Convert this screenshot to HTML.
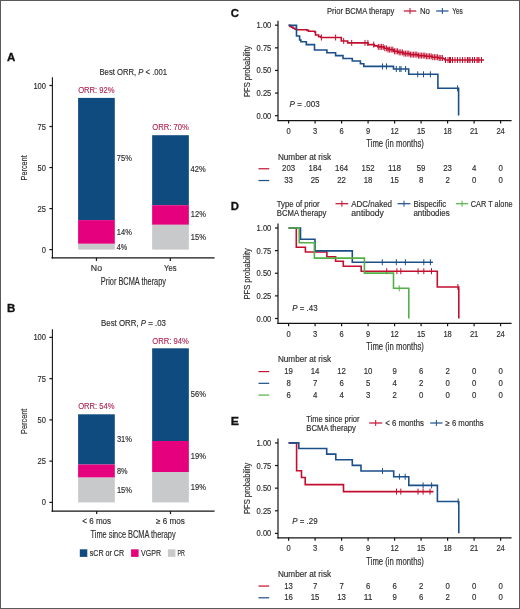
<!DOCTYPE html>
<html><head><meta charset="utf-8"><style>
html,body{margin:0;padding:0;background:#fff;}
body{width:520px;height:609px;overflow:hidden;position:relative;}
svg{display:block;font-family:"Liberation Sans", sans-serif;filter:blur(0.35px);}
</style></head><body>
<svg width="520" height="609" viewBox="0 0 520 609">
<rect x="0" y="0" width="520" height="609" fill="#fff"/>
<text x="7.10" y="61.27" font-size="10.8" fill="#111" stroke="#111" stroke-width="0.3" font-weight="bold" textLength="8.30" lengthAdjust="spacingAndGlyphs">A</text>
<text x="99.50" y="75.12" font-size="9.0" fill="#2e2e2e" stroke="#2e2e2e" stroke-width="0.16" textLength="67.60" lengthAdjust="spacingAndGlyphs">Best ORR, <tspan font-style="italic">P</tspan> &lt; .001</text>
<line x1="52.40" y1="77.29" x2="52.40" y2="258.50" stroke="#141414" stroke-width="1.1"/>
<line x1="51.50" y1="257.90" x2="214.60" y2="257.90" stroke="#141414" stroke-width="1.2"/>
<line x1="49.40" y1="249.60" x2="52.40" y2="249.60" stroke="#141414" stroke-width="1.2"/>
<text x="41.80" y="252.64" font-size="8.5" fill="#2e2e2e" stroke="#2e2e2e" stroke-width="0.16" textLength="4.20" lengthAdjust="spacingAndGlyphs">0</text>
<line x1="49.40" y1="208.57" x2="52.40" y2="208.57" stroke="#141414" stroke-width="1.2"/>
<text x="37.60" y="211.62" font-size="8.5" fill="#2e2e2e" stroke="#2e2e2e" stroke-width="0.16" textLength="8.40" lengthAdjust="spacingAndGlyphs">25</text>
<line x1="49.40" y1="167.55" x2="52.40" y2="167.55" stroke="#141414" stroke-width="1.2"/>
<text x="37.60" y="170.59" font-size="8.5" fill="#2e2e2e" stroke="#2e2e2e" stroke-width="0.16" textLength="8.40" lengthAdjust="spacingAndGlyphs">50</text>
<line x1="49.40" y1="126.52" x2="52.40" y2="126.52" stroke="#141414" stroke-width="1.2"/>
<text x="37.60" y="129.57" font-size="8.5" fill="#2e2e2e" stroke="#2e2e2e" stroke-width="0.16" textLength="8.40" lengthAdjust="spacingAndGlyphs">75</text>
<line x1="49.40" y1="85.50" x2="52.40" y2="85.50" stroke="#141414" stroke-width="1.2"/>
<text x="33.40" y="88.54" font-size="8.5" fill="#2e2e2e" stroke="#2e2e2e" stroke-width="0.16" textLength="12.60" lengthAdjust="spacingAndGlyphs">100</text>
<text x="11.00" y="171.19" font-size="9.2" fill="#2e2e2e" stroke="#2e2e2e" stroke-width="0.16" textLength="25.20" lengthAdjust="spacingAndGlyphs" transform="rotate(-90 23.60 167.90)">Percent</text>
<rect x="78.10" y="97.90" width="36.70" height="122.20" fill="#104b80"/>
<rect x="78.10" y="220.10" width="36.70" height="23.70" fill="#e5007d"/>
<rect x="78.10" y="243.80" width="36.70" height="5.80" fill="#c8c9cb"/>
<text x="78.15" y="92.94" font-size="8.2" fill="#ad2450" stroke="#ad2450" stroke-width="0.12" textLength="36.50" lengthAdjust="spacingAndGlyphs">ORR: 92%</text>
<text x="116.80" y="161.47" font-size="8.3" fill="#2e2e2e" stroke="#2e2e2e" stroke-width="0.16" textLength="15.10" lengthAdjust="spacingAndGlyphs">75%</text>
<text x="116.80" y="234.97" font-size="8.3" fill="#2e2e2e" stroke="#2e2e2e" stroke-width="0.16" textLength="15.10" lengthAdjust="spacingAndGlyphs">14%</text>
<text x="116.80" y="249.97" font-size="8.3" fill="#2e2e2e" stroke="#2e2e2e" stroke-width="0.16" textLength="10.55" lengthAdjust="spacingAndGlyphs">4%</text>
<rect x="152.15" y="135.20" width="36.70" height="70.00" fill="#104b80"/>
<rect x="152.15" y="205.20" width="36.70" height="19.60" fill="#e5007d"/>
<rect x="152.15" y="224.80" width="36.70" height="24.80" fill="#c8c9cb"/>
<text x="152.20" y="130.24" font-size="8.2" fill="#ad2450" stroke="#ad2450" stroke-width="0.12" textLength="36.50" lengthAdjust="spacingAndGlyphs">ORR: 70%</text>
<text x="190.60" y="172.27" font-size="8.3" fill="#2e2e2e" stroke="#2e2e2e" stroke-width="0.16" textLength="15.10" lengthAdjust="spacingAndGlyphs">42%</text>
<text x="190.80" y="217.47" font-size="8.3" fill="#2e2e2e" stroke="#2e2e2e" stroke-width="0.16" textLength="15.10" lengthAdjust="spacingAndGlyphs">12%</text>
<text x="190.80" y="240.47" font-size="8.3" fill="#2e2e2e" stroke="#2e2e2e" stroke-width="0.16" textLength="15.10" lengthAdjust="spacingAndGlyphs">15%</text>
<line x1="96.45" y1="257.90" x2="96.45" y2="260.90" stroke="#141414" stroke-width="1.2"/>
<text x="90.85" y="271.47" font-size="8.3" fill="#2e2e2e" stroke="#2e2e2e" stroke-width="0.16" textLength="11.20" lengthAdjust="spacingAndGlyphs">No</text>
<line x1="170.30" y1="257.90" x2="170.30" y2="260.90" stroke="#141414" stroke-width="1.2"/>
<text x="164.10" y="271.47" font-size="8.3" fill="#2e2e2e" stroke="#2e2e2e" stroke-width="0.16" textLength="12.40" lengthAdjust="spacingAndGlyphs">Yes</text>
<text x="100.80" y="284.89" font-size="10.3" fill="#2e2e2e" stroke="#2e2e2e" stroke-width="0.16" textLength="65.20" lengthAdjust="spacingAndGlyphs">Prior BCMA therapy</text>
<text x="7.10" y="311.87" font-size="10.8" fill="#111" stroke="#111" stroke-width="0.3" font-weight="bold" textLength="8.30" lengthAdjust="spacingAndGlyphs">B</text>
<text x="101.00" y="325.82" font-size="9.0" fill="#2e2e2e" stroke="#2e2e2e" stroke-width="0.16" textLength="65.00" lengthAdjust="spacingAndGlyphs">Best ORR, <tspan font-style="italic">P</tspan> = .03</text>
<line x1="52.40" y1="329.15" x2="52.40" y2="511.70" stroke="#141414" stroke-width="1.1"/>
<line x1="51.50" y1="511.10" x2="214.60" y2="511.10" stroke="#141414" stroke-width="1.2"/>
<line x1="49.40" y1="502.40" x2="52.40" y2="502.40" stroke="#141414" stroke-width="1.2"/>
<text x="41.80" y="505.44" font-size="8.5" fill="#2e2e2e" stroke="#2e2e2e" stroke-width="0.16" textLength="4.20" lengthAdjust="spacingAndGlyphs">0</text>
<line x1="49.40" y1="461.15" x2="52.40" y2="461.15" stroke="#141414" stroke-width="1.2"/>
<text x="37.60" y="464.19" font-size="8.5" fill="#2e2e2e" stroke="#2e2e2e" stroke-width="0.16" textLength="8.40" lengthAdjust="spacingAndGlyphs">25</text>
<line x1="49.40" y1="419.90" x2="52.40" y2="419.90" stroke="#141414" stroke-width="1.2"/>
<text x="37.60" y="422.94" font-size="8.5" fill="#2e2e2e" stroke="#2e2e2e" stroke-width="0.16" textLength="8.40" lengthAdjust="spacingAndGlyphs">50</text>
<line x1="49.40" y1="378.65" x2="52.40" y2="378.65" stroke="#141414" stroke-width="1.2"/>
<text x="37.60" y="381.69" font-size="8.5" fill="#2e2e2e" stroke="#2e2e2e" stroke-width="0.16" textLength="8.40" lengthAdjust="spacingAndGlyphs">75</text>
<line x1="49.40" y1="337.40" x2="52.40" y2="337.40" stroke="#141414" stroke-width="1.2"/>
<text x="33.40" y="340.44" font-size="8.5" fill="#2e2e2e" stroke="#2e2e2e" stroke-width="0.16" textLength="12.60" lengthAdjust="spacingAndGlyphs">100</text>
<text x="11.00" y="424.59" font-size="9.2" fill="#2e2e2e" stroke="#2e2e2e" stroke-width="0.16" textLength="25.20" lengthAdjust="spacingAndGlyphs" transform="rotate(-90 23.60 421.30)">Percent</text>
<rect x="78.10" y="414.30" width="36.70" height="50.20" fill="#104b80"/>
<rect x="78.10" y="464.50" width="36.70" height="13.10" fill="#e5007d"/>
<rect x="78.10" y="477.60" width="36.70" height="24.80" fill="#c8c9cb"/>
<text x="78.15" y="408.84" font-size="8.2" fill="#ad2450" stroke="#ad2450" stroke-width="0.12" textLength="36.50" lengthAdjust="spacingAndGlyphs">ORR: 54%</text>
<text x="116.90" y="442.17" font-size="8.3" fill="#2e2e2e" stroke="#2e2e2e" stroke-width="0.16" textLength="15.10" lengthAdjust="spacingAndGlyphs">31%</text>
<text x="116.90" y="473.87" font-size="8.3" fill="#2e2e2e" stroke="#2e2e2e" stroke-width="0.16" textLength="10.55" lengthAdjust="spacingAndGlyphs">8%</text>
<text x="116.90" y="492.57" font-size="8.3" fill="#2e2e2e" stroke="#2e2e2e" stroke-width="0.16" textLength="15.10" lengthAdjust="spacingAndGlyphs">15%</text>
<rect x="152.15" y="348.30" width="36.70" height="92.70" fill="#104b80"/>
<rect x="152.15" y="441.00" width="36.70" height="31.00" fill="#e5007d"/>
<rect x="152.15" y="472.00" width="36.70" height="30.40" fill="#c8c9cb"/>
<text x="152.20" y="343.84" font-size="8.2" fill="#ad2450" stroke="#ad2450" stroke-width="0.12" textLength="36.50" lengthAdjust="spacingAndGlyphs">ORR: 94%</text>
<text x="190.80" y="397.27" font-size="8.3" fill="#2e2e2e" stroke="#2e2e2e" stroke-width="0.16" textLength="15.10" lengthAdjust="spacingAndGlyphs">56%</text>
<text x="190.80" y="459.07" font-size="8.3" fill="#2e2e2e" stroke="#2e2e2e" stroke-width="0.16" textLength="15.10" lengthAdjust="spacingAndGlyphs">19%</text>
<text x="190.80" y="490.07" font-size="8.3" fill="#2e2e2e" stroke="#2e2e2e" stroke-width="0.16" textLength="15.10" lengthAdjust="spacingAndGlyphs">19%</text>
<line x1="96.70" y1="511.10" x2="96.70" y2="514.10" stroke="#141414" stroke-width="1.2"/>
<text x="82.30" y="524.17" font-size="8.3" fill="#2e2e2e" stroke="#2e2e2e" stroke-width="0.16" textLength="28.80" lengthAdjust="spacingAndGlyphs">&lt; 6 mos</text>
<line x1="170.50" y1="511.10" x2="170.50" y2="514.10" stroke="#141414" stroke-width="1.2"/>
<text x="156.10" y="524.17" font-size="8.3" fill="#2e2e2e" stroke="#2e2e2e" stroke-width="0.16" textLength="28.80" lengthAdjust="spacingAndGlyphs">≥ 6 mos</text>
<text x="90.60" y="537.89" font-size="10.3" fill="#2e2e2e" stroke="#2e2e2e" stroke-width="0.16" textLength="85.00" lengthAdjust="spacingAndGlyphs">Time since BCMA therapy</text>
<rect x="79.80" y="549.30" width="7.50" height="7.60" fill="#104b80"/>
<text x="89.70" y="555.81" font-size="8.4" fill="#2e2e2e" stroke="#2e2e2e" stroke-width="0.16" textLength="34.40" lengthAdjust="spacingAndGlyphs">sCR or CR</text>
<rect x="131.10" y="549.30" width="7.50" height="7.60" fill="#e5007d"/>
<text x="141.10" y="555.81" font-size="8.4" fill="#2e2e2e" stroke="#2e2e2e" stroke-width="0.16" textLength="20.00" lengthAdjust="spacingAndGlyphs">VGPR</text>
<rect x="167.90" y="549.30" width="7.50" height="7.60" fill="#c8c9cb"/>
<text x="177.40" y="555.81" font-size="8.4" fill="#2e2e2e" stroke="#2e2e2e" stroke-width="0.16" textLength="7.40" lengthAdjust="spacingAndGlyphs">PR</text>
<text x="230.80" y="16.77" font-size="10.8" fill="#111" stroke="#111" stroke-width="0.3" font-weight="bold" textLength="8.20" lengthAdjust="spacingAndGlyphs">C</text>
<line x1="278.00" y1="20.67" x2="278.00" y2="121.12" stroke="#141414" stroke-width="1.2"/>
<line x1="277.40" y1="120.53" x2="511.60" y2="120.53" stroke="#141414" stroke-width="1.2"/>
<line x1="275.00" y1="115.70" x2="278.00" y2="115.70" stroke="#141414" stroke-width="1.2"/>
<text x="256.60" y="118.74" font-size="8.5" fill="#2e2e2e" stroke="#2e2e2e" stroke-width="0.16" textLength="14.70" lengthAdjust="spacingAndGlyphs">0.00</text>
<line x1="275.00" y1="93.08" x2="278.00" y2="93.08" stroke="#141414" stroke-width="1.2"/>
<text x="256.60" y="96.12" font-size="8.5" fill="#2e2e2e" stroke="#2e2e2e" stroke-width="0.16" textLength="14.70" lengthAdjust="spacingAndGlyphs">0.25</text>
<line x1="275.00" y1="70.45" x2="278.00" y2="70.45" stroke="#141414" stroke-width="1.2"/>
<text x="256.60" y="73.49" font-size="8.5" fill="#2e2e2e" stroke="#2e2e2e" stroke-width="0.16" textLength="14.70" lengthAdjust="spacingAndGlyphs">0.50</text>
<line x1="275.00" y1="47.83" x2="278.00" y2="47.83" stroke="#141414" stroke-width="1.2"/>
<text x="256.60" y="50.87" font-size="8.5" fill="#2e2e2e" stroke="#2e2e2e" stroke-width="0.16" textLength="14.70" lengthAdjust="spacingAndGlyphs">0.75</text>
<line x1="275.00" y1="25.20" x2="278.00" y2="25.20" stroke="#141414" stroke-width="1.2"/>
<text x="256.60" y="28.24" font-size="8.5" fill="#2e2e2e" stroke="#2e2e2e" stroke-width="0.16" textLength="14.70" lengthAdjust="spacingAndGlyphs">1.00</text>
<line x1="288.60" y1="120.53" x2="288.60" y2="123.53" stroke="#141414" stroke-width="1.2"/>
<text x="286.50" y="134.07" font-size="8.5" fill="#2e2e2e" stroke="#2e2e2e" stroke-width="0.16" textLength="4.20" lengthAdjust="spacingAndGlyphs">0</text>
<line x1="315.10" y1="120.53" x2="315.10" y2="123.53" stroke="#141414" stroke-width="1.2"/>
<text x="313.00" y="134.07" font-size="8.5" fill="#2e2e2e" stroke="#2e2e2e" stroke-width="0.16" textLength="4.20" lengthAdjust="spacingAndGlyphs">3</text>
<line x1="341.60" y1="120.53" x2="341.60" y2="123.53" stroke="#141414" stroke-width="1.2"/>
<text x="339.50" y="134.07" font-size="8.5" fill="#2e2e2e" stroke="#2e2e2e" stroke-width="0.16" textLength="4.20" lengthAdjust="spacingAndGlyphs">6</text>
<line x1="368.10" y1="120.53" x2="368.10" y2="123.53" stroke="#141414" stroke-width="1.2"/>
<text x="366.00" y="134.07" font-size="8.5" fill="#2e2e2e" stroke="#2e2e2e" stroke-width="0.16" textLength="4.20" lengthAdjust="spacingAndGlyphs">9</text>
<line x1="394.60" y1="120.53" x2="394.60" y2="123.53" stroke="#141414" stroke-width="1.2"/>
<text x="390.40" y="134.07" font-size="8.5" fill="#2e2e2e" stroke="#2e2e2e" stroke-width="0.16" textLength="8.40" lengthAdjust="spacingAndGlyphs">12</text>
<line x1="421.10" y1="120.53" x2="421.10" y2="123.53" stroke="#141414" stroke-width="1.2"/>
<text x="416.90" y="134.07" font-size="8.5" fill="#2e2e2e" stroke="#2e2e2e" stroke-width="0.16" textLength="8.40" lengthAdjust="spacingAndGlyphs">15</text>
<line x1="447.60" y1="120.53" x2="447.60" y2="123.53" stroke="#141414" stroke-width="1.2"/>
<text x="443.40" y="134.07" font-size="8.5" fill="#2e2e2e" stroke="#2e2e2e" stroke-width="0.16" textLength="8.40" lengthAdjust="spacingAndGlyphs">18</text>
<line x1="474.10" y1="120.53" x2="474.10" y2="123.53" stroke="#141414" stroke-width="1.2"/>
<text x="469.90" y="134.07" font-size="8.5" fill="#2e2e2e" stroke="#2e2e2e" stroke-width="0.16" textLength="8.40" lengthAdjust="spacingAndGlyphs">21</text>
<line x1="500.60" y1="120.53" x2="500.60" y2="123.53" stroke="#141414" stroke-width="1.2"/>
<text x="496.40" y="134.07" font-size="8.5" fill="#2e2e2e" stroke="#2e2e2e" stroke-width="0.16" textLength="8.40" lengthAdjust="spacingAndGlyphs">24</text>
<text x="366.30" y="147.31" font-size="10.3" fill="#2e2e2e" stroke="#2e2e2e" stroke-width="0.16" textLength="57.60" lengthAdjust="spacingAndGlyphs">Time (in months)</text>
<text x="221.20" y="74.59" font-size="9.2" fill="#2e2e2e" stroke="#2e2e2e" stroke-width="0.16" textLength="51.40" lengthAdjust="spacingAndGlyphs" transform="rotate(-90 246.90 71.30)">PFS probability</text>
<text x="289.60" y="107.27" font-size="8.3" fill="#2e2e2e" stroke="#2e2e2e" stroke-width="0.16" textLength="30.00" lengthAdjust="spacingAndGlyphs"><tspan font-style="italic">P</tspan> = .003</text>
<text x="277.90" y="159.60" font-size="8.6" fill="#2e2e2e" stroke="#2e2e2e" stroke-width="0.16" textLength="53.20" lengthAdjust="spacingAndGlyphs">Number at risk</text>
<line x1="258.50" y1="168.78" x2="269.20" y2="168.78" stroke="#c20f2f" stroke-width="1.2"/>
<text x="282.08" y="171.43" font-size="8.8" fill="#2e2e2e" stroke="#2e2e2e" stroke-width="0.16" textLength="13.05" lengthAdjust="spacingAndGlyphs">203</text>
<text x="308.58" y="171.43" font-size="8.8" fill="#2e2e2e" stroke="#2e2e2e" stroke-width="0.16" textLength="13.05" lengthAdjust="spacingAndGlyphs">184</text>
<text x="335.08" y="171.43" font-size="8.8" fill="#2e2e2e" stroke="#2e2e2e" stroke-width="0.16" textLength="13.05" lengthAdjust="spacingAndGlyphs">164</text>
<text x="361.58" y="171.43" font-size="8.8" fill="#2e2e2e" stroke="#2e2e2e" stroke-width="0.16" textLength="13.05" lengthAdjust="spacingAndGlyphs">152</text>
<text x="388.08" y="171.43" font-size="8.8" fill="#2e2e2e" stroke="#2e2e2e" stroke-width="0.16" textLength="13.05" lengthAdjust="spacingAndGlyphs">118</text>
<text x="416.75" y="171.43" font-size="8.8" fill="#2e2e2e" stroke="#2e2e2e" stroke-width="0.16" textLength="8.70" lengthAdjust="spacingAndGlyphs">59</text>
<text x="443.25" y="171.43" font-size="8.8" fill="#2e2e2e" stroke="#2e2e2e" stroke-width="0.16" textLength="8.70" lengthAdjust="spacingAndGlyphs">23</text>
<text x="471.93" y="171.43" font-size="8.8" fill="#2e2e2e" stroke="#2e2e2e" stroke-width="0.16" textLength="4.35" lengthAdjust="spacingAndGlyphs">4</text>
<text x="498.43" y="171.43" font-size="8.8" fill="#2e2e2e" stroke="#2e2e2e" stroke-width="0.16" textLength="4.35" lengthAdjust="spacingAndGlyphs">0</text>
<line x1="258.50" y1="180.53" x2="269.20" y2="180.53" stroke="#1b4f8a" stroke-width="1.2"/>
<text x="284.25" y="183.18" font-size="8.8" fill="#2e2e2e" stroke="#2e2e2e" stroke-width="0.16" textLength="8.70" lengthAdjust="spacingAndGlyphs">33</text>
<text x="310.75" y="183.18" font-size="8.8" fill="#2e2e2e" stroke="#2e2e2e" stroke-width="0.16" textLength="8.70" lengthAdjust="spacingAndGlyphs">25</text>
<text x="337.25" y="183.18" font-size="8.8" fill="#2e2e2e" stroke="#2e2e2e" stroke-width="0.16" textLength="8.70" lengthAdjust="spacingAndGlyphs">22</text>
<text x="363.75" y="183.18" font-size="8.8" fill="#2e2e2e" stroke="#2e2e2e" stroke-width="0.16" textLength="8.70" lengthAdjust="spacingAndGlyphs">18</text>
<text x="390.25" y="183.18" font-size="8.8" fill="#2e2e2e" stroke="#2e2e2e" stroke-width="0.16" textLength="8.70" lengthAdjust="spacingAndGlyphs">15</text>
<text x="418.93" y="183.18" font-size="8.8" fill="#2e2e2e" stroke="#2e2e2e" stroke-width="0.16" textLength="4.35" lengthAdjust="spacingAndGlyphs">8</text>
<text x="445.43" y="183.18" font-size="8.8" fill="#2e2e2e" stroke="#2e2e2e" stroke-width="0.16" textLength="4.35" lengthAdjust="spacingAndGlyphs">2</text>
<text x="471.93" y="183.18" font-size="8.8" fill="#2e2e2e" stroke="#2e2e2e" stroke-width="0.16" textLength="4.35" lengthAdjust="spacingAndGlyphs">0</text>
<text x="498.43" y="183.18" font-size="8.8" fill="#2e2e2e" stroke="#2e2e2e" stroke-width="0.16" textLength="4.35" lengthAdjust="spacingAndGlyphs">0</text>
<text x="327.00" y="14.11" font-size="8.4" fill="#2e2e2e" stroke="#2e2e2e" stroke-width="0.16" textLength="67.40" lengthAdjust="spacingAndGlyphs">Prior BCMA therapy</text>
<line x1="403.80" y1="11.00" x2="416.20" y2="11.00" stroke="#c20f2f" stroke-width="1.2"/>
<line x1="410.00" y1="8.00" x2="410.00" y2="14.00" stroke="#c20f2f" stroke-width="1.0"/>
<text x="419.90" y="14.11" font-size="8.4" fill="#2e2e2e" stroke="#2e2e2e" stroke-width="0.16" textLength="10.00" lengthAdjust="spacingAndGlyphs">No</text>
<line x1="436.20" y1="11.00" x2="448.50" y2="11.00" stroke="#1b4f8a" stroke-width="1.2"/>
<line x1="442.35" y1="8.00" x2="442.35" y2="14.00" stroke="#1b4f8a" stroke-width="1.0"/>
<text x="452.30" y="14.11" font-size="8.4" fill="#2e2e2e" stroke="#2e2e2e" stroke-width="0.16" textLength="10.50" lengthAdjust="spacingAndGlyphs">Yes</text>
<text x="230.80" y="209.87" font-size="10.8" fill="#111" stroke="#111" stroke-width="0.3" font-weight="bold" textLength="8.20" lengthAdjust="spacingAndGlyphs">D</text>
<line x1="278.00" y1="223.47" x2="278.00" y2="323.93" stroke="#141414" stroke-width="1.2"/>
<line x1="277.40" y1="323.32" x2="511.60" y2="323.32" stroke="#141414" stroke-width="1.2"/>
<line x1="275.00" y1="318.50" x2="278.00" y2="318.50" stroke="#141414" stroke-width="1.2"/>
<text x="256.60" y="321.54" font-size="8.5" fill="#2e2e2e" stroke="#2e2e2e" stroke-width="0.16" textLength="14.70" lengthAdjust="spacingAndGlyphs">0.00</text>
<line x1="275.00" y1="295.88" x2="278.00" y2="295.88" stroke="#141414" stroke-width="1.2"/>
<text x="256.60" y="298.92" font-size="8.5" fill="#2e2e2e" stroke="#2e2e2e" stroke-width="0.16" textLength="14.70" lengthAdjust="spacingAndGlyphs">0.25</text>
<line x1="275.00" y1="273.25" x2="278.00" y2="273.25" stroke="#141414" stroke-width="1.2"/>
<text x="256.60" y="276.29" font-size="8.5" fill="#2e2e2e" stroke="#2e2e2e" stroke-width="0.16" textLength="14.70" lengthAdjust="spacingAndGlyphs">0.50</text>
<line x1="275.00" y1="250.62" x2="278.00" y2="250.62" stroke="#141414" stroke-width="1.2"/>
<text x="256.60" y="253.67" font-size="8.5" fill="#2e2e2e" stroke="#2e2e2e" stroke-width="0.16" textLength="14.70" lengthAdjust="spacingAndGlyphs">0.75</text>
<line x1="275.00" y1="228.00" x2="278.00" y2="228.00" stroke="#141414" stroke-width="1.2"/>
<text x="256.60" y="231.04" font-size="8.5" fill="#2e2e2e" stroke="#2e2e2e" stroke-width="0.16" textLength="14.70" lengthAdjust="spacingAndGlyphs">1.00</text>
<line x1="288.60" y1="323.32" x2="288.60" y2="326.32" stroke="#141414" stroke-width="1.2"/>
<text x="286.50" y="336.87" font-size="8.5" fill="#2e2e2e" stroke="#2e2e2e" stroke-width="0.16" textLength="4.20" lengthAdjust="spacingAndGlyphs">0</text>
<line x1="315.10" y1="323.32" x2="315.10" y2="326.32" stroke="#141414" stroke-width="1.2"/>
<text x="313.00" y="336.87" font-size="8.5" fill="#2e2e2e" stroke="#2e2e2e" stroke-width="0.16" textLength="4.20" lengthAdjust="spacingAndGlyphs">3</text>
<line x1="341.60" y1="323.32" x2="341.60" y2="326.32" stroke="#141414" stroke-width="1.2"/>
<text x="339.50" y="336.87" font-size="8.5" fill="#2e2e2e" stroke="#2e2e2e" stroke-width="0.16" textLength="4.20" lengthAdjust="spacingAndGlyphs">6</text>
<line x1="368.10" y1="323.32" x2="368.10" y2="326.32" stroke="#141414" stroke-width="1.2"/>
<text x="366.00" y="336.87" font-size="8.5" fill="#2e2e2e" stroke="#2e2e2e" stroke-width="0.16" textLength="4.20" lengthAdjust="spacingAndGlyphs">9</text>
<line x1="394.60" y1="323.32" x2="394.60" y2="326.32" stroke="#141414" stroke-width="1.2"/>
<text x="390.40" y="336.87" font-size="8.5" fill="#2e2e2e" stroke="#2e2e2e" stroke-width="0.16" textLength="8.40" lengthAdjust="spacingAndGlyphs">12</text>
<line x1="421.10" y1="323.32" x2="421.10" y2="326.32" stroke="#141414" stroke-width="1.2"/>
<text x="416.90" y="336.87" font-size="8.5" fill="#2e2e2e" stroke="#2e2e2e" stroke-width="0.16" textLength="8.40" lengthAdjust="spacingAndGlyphs">15</text>
<line x1="447.60" y1="323.32" x2="447.60" y2="326.32" stroke="#141414" stroke-width="1.2"/>
<text x="443.40" y="336.87" font-size="8.5" fill="#2e2e2e" stroke="#2e2e2e" stroke-width="0.16" textLength="8.40" lengthAdjust="spacingAndGlyphs">18</text>
<line x1="474.10" y1="323.32" x2="474.10" y2="326.32" stroke="#141414" stroke-width="1.2"/>
<text x="469.90" y="336.87" font-size="8.5" fill="#2e2e2e" stroke="#2e2e2e" stroke-width="0.16" textLength="8.40" lengthAdjust="spacingAndGlyphs">21</text>
<line x1="500.60" y1="323.32" x2="500.60" y2="326.32" stroke="#141414" stroke-width="1.2"/>
<text x="496.40" y="336.87" font-size="8.5" fill="#2e2e2e" stroke="#2e2e2e" stroke-width="0.16" textLength="8.40" lengthAdjust="spacingAndGlyphs">24</text>
<text x="366.30" y="350.11" font-size="10.3" fill="#2e2e2e" stroke="#2e2e2e" stroke-width="0.16" textLength="57.60" lengthAdjust="spacingAndGlyphs">Time (in months)</text>
<text x="221.20" y="277.09" font-size="9.2" fill="#2e2e2e" stroke="#2e2e2e" stroke-width="0.16" textLength="51.40" lengthAdjust="spacingAndGlyphs" transform="rotate(-90 246.90 273.80)">PFS probability</text>
<text x="292.30" y="310.67" font-size="8.3" fill="#2e2e2e" stroke="#2e2e2e" stroke-width="0.16" textLength="25.30" lengthAdjust="spacingAndGlyphs"><tspan font-style="italic">P</tspan> = .43</text>
<text x="277.90" y="362.40" font-size="8.6" fill="#2e2e2e" stroke="#2e2e2e" stroke-width="0.16" textLength="53.20" lengthAdjust="spacingAndGlyphs">Number at risk</text>
<line x1="258.50" y1="371.57" x2="269.20" y2="371.57" stroke="#c20f2f" stroke-width="1.2"/>
<text x="284.25" y="374.23" font-size="8.8" fill="#2e2e2e" stroke="#2e2e2e" stroke-width="0.16" textLength="8.70" lengthAdjust="spacingAndGlyphs">19</text>
<text x="310.75" y="374.23" font-size="8.8" fill="#2e2e2e" stroke="#2e2e2e" stroke-width="0.16" textLength="8.70" lengthAdjust="spacingAndGlyphs">14</text>
<text x="337.25" y="374.23" font-size="8.8" fill="#2e2e2e" stroke="#2e2e2e" stroke-width="0.16" textLength="8.70" lengthAdjust="spacingAndGlyphs">12</text>
<text x="363.75" y="374.23" font-size="8.8" fill="#2e2e2e" stroke="#2e2e2e" stroke-width="0.16" textLength="8.70" lengthAdjust="spacingAndGlyphs">10</text>
<text x="392.43" y="374.23" font-size="8.8" fill="#2e2e2e" stroke="#2e2e2e" stroke-width="0.16" textLength="4.35" lengthAdjust="spacingAndGlyphs">9</text>
<text x="418.93" y="374.23" font-size="8.8" fill="#2e2e2e" stroke="#2e2e2e" stroke-width="0.16" textLength="4.35" lengthAdjust="spacingAndGlyphs">6</text>
<text x="445.43" y="374.23" font-size="8.8" fill="#2e2e2e" stroke="#2e2e2e" stroke-width="0.16" textLength="4.35" lengthAdjust="spacingAndGlyphs">2</text>
<text x="471.93" y="374.23" font-size="8.8" fill="#2e2e2e" stroke="#2e2e2e" stroke-width="0.16" textLength="4.35" lengthAdjust="spacingAndGlyphs">0</text>
<text x="498.43" y="374.23" font-size="8.8" fill="#2e2e2e" stroke="#2e2e2e" stroke-width="0.16" textLength="4.35" lengthAdjust="spacingAndGlyphs">0</text>
<line x1="258.50" y1="383.32" x2="269.20" y2="383.32" stroke="#1b4f8a" stroke-width="1.2"/>
<text x="286.43" y="385.98" font-size="8.8" fill="#2e2e2e" stroke="#2e2e2e" stroke-width="0.16" textLength="4.35" lengthAdjust="spacingAndGlyphs">8</text>
<text x="312.93" y="385.98" font-size="8.8" fill="#2e2e2e" stroke="#2e2e2e" stroke-width="0.16" textLength="4.35" lengthAdjust="spacingAndGlyphs">7</text>
<text x="339.43" y="385.98" font-size="8.8" fill="#2e2e2e" stroke="#2e2e2e" stroke-width="0.16" textLength="4.35" lengthAdjust="spacingAndGlyphs">6</text>
<text x="365.93" y="385.98" font-size="8.8" fill="#2e2e2e" stroke="#2e2e2e" stroke-width="0.16" textLength="4.35" lengthAdjust="spacingAndGlyphs">5</text>
<text x="392.43" y="385.98" font-size="8.8" fill="#2e2e2e" stroke="#2e2e2e" stroke-width="0.16" textLength="4.35" lengthAdjust="spacingAndGlyphs">4</text>
<text x="418.93" y="385.98" font-size="8.8" fill="#2e2e2e" stroke="#2e2e2e" stroke-width="0.16" textLength="4.35" lengthAdjust="spacingAndGlyphs">2</text>
<text x="445.43" y="385.98" font-size="8.8" fill="#2e2e2e" stroke="#2e2e2e" stroke-width="0.16" textLength="4.35" lengthAdjust="spacingAndGlyphs">0</text>
<text x="471.93" y="385.98" font-size="8.8" fill="#2e2e2e" stroke="#2e2e2e" stroke-width="0.16" textLength="4.35" lengthAdjust="spacingAndGlyphs">0</text>
<text x="498.43" y="385.98" font-size="8.8" fill="#2e2e2e" stroke="#2e2e2e" stroke-width="0.16" textLength="4.35" lengthAdjust="spacingAndGlyphs">0</text>
<line x1="258.50" y1="395.07" x2="269.20" y2="395.07" stroke="#52b047" stroke-width="1.2"/>
<text x="286.43" y="397.73" font-size="8.8" fill="#2e2e2e" stroke="#2e2e2e" stroke-width="0.16" textLength="4.35" lengthAdjust="spacingAndGlyphs">6</text>
<text x="312.93" y="397.73" font-size="8.8" fill="#2e2e2e" stroke="#2e2e2e" stroke-width="0.16" textLength="4.35" lengthAdjust="spacingAndGlyphs">4</text>
<text x="339.43" y="397.73" font-size="8.8" fill="#2e2e2e" stroke="#2e2e2e" stroke-width="0.16" textLength="4.35" lengthAdjust="spacingAndGlyphs">4</text>
<text x="365.93" y="397.73" font-size="8.8" fill="#2e2e2e" stroke="#2e2e2e" stroke-width="0.16" textLength="4.35" lengthAdjust="spacingAndGlyphs">3</text>
<text x="392.43" y="397.73" font-size="8.8" fill="#2e2e2e" stroke="#2e2e2e" stroke-width="0.16" textLength="4.35" lengthAdjust="spacingAndGlyphs">2</text>
<text x="418.93" y="397.73" font-size="8.8" fill="#2e2e2e" stroke="#2e2e2e" stroke-width="0.16" textLength="4.35" lengthAdjust="spacingAndGlyphs">0</text>
<text x="445.43" y="397.73" font-size="8.8" fill="#2e2e2e" stroke="#2e2e2e" stroke-width="0.16" textLength="4.35" lengthAdjust="spacingAndGlyphs">0</text>
<text x="471.93" y="397.73" font-size="8.8" fill="#2e2e2e" stroke="#2e2e2e" stroke-width="0.16" textLength="4.35" lengthAdjust="spacingAndGlyphs">0</text>
<text x="498.43" y="397.73" font-size="8.8" fill="#2e2e2e" stroke="#2e2e2e" stroke-width="0.16" textLength="4.35" lengthAdjust="spacingAndGlyphs">0</text>
<text x="276.80" y="206.51" font-size="8.4" fill="#2e2e2e" stroke="#2e2e2e" stroke-width="0.16" textLength="42.90" lengthAdjust="spacingAndGlyphs">Type of prior</text>
<text x="276.80" y="216.11" font-size="8.4" fill="#2e2e2e" stroke="#2e2e2e" stroke-width="0.16" textLength="49.60" lengthAdjust="spacingAndGlyphs">BCMA therapy</text>
<line x1="335.50" y1="203.70" x2="348.30" y2="203.70" stroke="#c20f2f" stroke-width="1.2"/>
<line x1="341.90" y1="200.70" x2="341.90" y2="206.70" stroke="#c20f2f" stroke-width="1.0"/>
<text x="351.30" y="206.81" font-size="8.4" fill="#2e2e2e" stroke="#2e2e2e" stroke-width="0.16" textLength="40.70" lengthAdjust="spacingAndGlyphs">ADC/naked</text>
<text x="351.30" y="216.11" font-size="8.4" fill="#2e2e2e" stroke="#2e2e2e" stroke-width="0.16" textLength="32.60" lengthAdjust="spacingAndGlyphs">antibody</text>
<line x1="397.60" y1="203.70" x2="410.40" y2="203.70" stroke="#1b4f8a" stroke-width="1.2"/>
<line x1="404.00" y1="200.70" x2="404.00" y2="206.70" stroke="#1b4f8a" stroke-width="1.0"/>
<text x="413.40" y="206.81" font-size="8.4" fill="#2e2e2e" stroke="#2e2e2e" stroke-width="0.16" textLength="32.70" lengthAdjust="spacingAndGlyphs">Bispecific</text>
<text x="413.40" y="216.11" font-size="8.4" fill="#2e2e2e" stroke="#2e2e2e" stroke-width="0.16" textLength="36.30" lengthAdjust="spacingAndGlyphs">antibodies</text>
<line x1="456.00" y1="203.70" x2="468.10" y2="203.70" stroke="#52b047" stroke-width="1.2"/>
<line x1="462.05" y1="200.70" x2="462.05" y2="206.70" stroke="#52b047" stroke-width="1.0"/>
<text x="470.80" y="206.81" font-size="8.4" fill="#2e2e2e" stroke="#2e2e2e" stroke-width="0.16" textLength="41.80" lengthAdjust="spacingAndGlyphs">CAR T alone</text>
<text x="230.80" y="424.87" font-size="10.8" fill="#111" stroke="#111" stroke-width="0.3" font-weight="bold" textLength="8.20" lengthAdjust="spacingAndGlyphs">E</text>
<line x1="278.00" y1="438.38" x2="278.00" y2="538.40" stroke="#141414" stroke-width="1.2"/>
<line x1="277.40" y1="537.80" x2="511.60" y2="537.80" stroke="#141414" stroke-width="1.2"/>
<line x1="275.00" y1="533.40" x2="278.00" y2="533.40" stroke="#141414" stroke-width="1.2"/>
<text x="256.60" y="536.44" font-size="8.5" fill="#2e2e2e" stroke="#2e2e2e" stroke-width="0.16" textLength="14.70" lengthAdjust="spacingAndGlyphs">0.00</text>
<line x1="275.00" y1="510.77" x2="278.00" y2="510.77" stroke="#141414" stroke-width="1.2"/>
<text x="256.60" y="513.82" font-size="8.5" fill="#2e2e2e" stroke="#2e2e2e" stroke-width="0.16" textLength="14.70" lengthAdjust="spacingAndGlyphs">0.25</text>
<line x1="275.00" y1="488.15" x2="278.00" y2="488.15" stroke="#141414" stroke-width="1.2"/>
<text x="256.60" y="491.19" font-size="8.5" fill="#2e2e2e" stroke="#2e2e2e" stroke-width="0.16" textLength="14.70" lengthAdjust="spacingAndGlyphs">0.50</text>
<line x1="275.00" y1="465.52" x2="278.00" y2="465.52" stroke="#141414" stroke-width="1.2"/>
<text x="256.60" y="468.57" font-size="8.5" fill="#2e2e2e" stroke="#2e2e2e" stroke-width="0.16" textLength="14.70" lengthAdjust="spacingAndGlyphs">0.75</text>
<line x1="275.00" y1="442.90" x2="278.00" y2="442.90" stroke="#141414" stroke-width="1.2"/>
<text x="256.60" y="445.94" font-size="8.5" fill="#2e2e2e" stroke="#2e2e2e" stroke-width="0.16" textLength="14.70" lengthAdjust="spacingAndGlyphs">1.00</text>
<line x1="288.60" y1="537.80" x2="288.60" y2="540.80" stroke="#141414" stroke-width="1.2"/>
<text x="286.50" y="551.34" font-size="8.5" fill="#2e2e2e" stroke="#2e2e2e" stroke-width="0.16" textLength="4.20" lengthAdjust="spacingAndGlyphs">0</text>
<line x1="315.10" y1="537.80" x2="315.10" y2="540.80" stroke="#141414" stroke-width="1.2"/>
<text x="313.00" y="551.34" font-size="8.5" fill="#2e2e2e" stroke="#2e2e2e" stroke-width="0.16" textLength="4.20" lengthAdjust="spacingAndGlyphs">3</text>
<line x1="341.60" y1="537.80" x2="341.60" y2="540.80" stroke="#141414" stroke-width="1.2"/>
<text x="339.50" y="551.34" font-size="8.5" fill="#2e2e2e" stroke="#2e2e2e" stroke-width="0.16" textLength="4.20" lengthAdjust="spacingAndGlyphs">6</text>
<line x1="368.10" y1="537.80" x2="368.10" y2="540.80" stroke="#141414" stroke-width="1.2"/>
<text x="366.00" y="551.34" font-size="8.5" fill="#2e2e2e" stroke="#2e2e2e" stroke-width="0.16" textLength="4.20" lengthAdjust="spacingAndGlyphs">9</text>
<line x1="394.60" y1="537.80" x2="394.60" y2="540.80" stroke="#141414" stroke-width="1.2"/>
<text x="390.40" y="551.34" font-size="8.5" fill="#2e2e2e" stroke="#2e2e2e" stroke-width="0.16" textLength="8.40" lengthAdjust="spacingAndGlyphs">12</text>
<line x1="421.10" y1="537.80" x2="421.10" y2="540.80" stroke="#141414" stroke-width="1.2"/>
<text x="416.90" y="551.34" font-size="8.5" fill="#2e2e2e" stroke="#2e2e2e" stroke-width="0.16" textLength="8.40" lengthAdjust="spacingAndGlyphs">15</text>
<line x1="447.60" y1="537.80" x2="447.60" y2="540.80" stroke="#141414" stroke-width="1.2"/>
<text x="443.40" y="551.34" font-size="8.5" fill="#2e2e2e" stroke="#2e2e2e" stroke-width="0.16" textLength="8.40" lengthAdjust="spacingAndGlyphs">18</text>
<line x1="474.10" y1="537.80" x2="474.10" y2="540.80" stroke="#141414" stroke-width="1.2"/>
<text x="469.90" y="551.34" font-size="8.5" fill="#2e2e2e" stroke="#2e2e2e" stroke-width="0.16" textLength="8.40" lengthAdjust="spacingAndGlyphs">21</text>
<line x1="500.60" y1="537.80" x2="500.60" y2="540.80" stroke="#141414" stroke-width="1.2"/>
<text x="496.40" y="551.34" font-size="8.5" fill="#2e2e2e" stroke="#2e2e2e" stroke-width="0.16" textLength="8.40" lengthAdjust="spacingAndGlyphs">24</text>
<text x="366.30" y="564.59" font-size="10.3" fill="#2e2e2e" stroke="#2e2e2e" stroke-width="0.16" textLength="57.60" lengthAdjust="spacingAndGlyphs">Time (in months)</text>
<text x="221.20" y="491.59" font-size="9.2" fill="#2e2e2e" stroke="#2e2e2e" stroke-width="0.16" textLength="51.40" lengthAdjust="spacingAndGlyphs" transform="rotate(-90 246.90 488.30)">PFS probability</text>
<text x="292.30" y="524.27" font-size="8.3" fill="#2e2e2e" stroke="#2e2e2e" stroke-width="0.16" textLength="25.30" lengthAdjust="spacingAndGlyphs"><tspan font-style="italic">P</tspan> = .29</text>
<text x="277.90" y="576.88" font-size="8.6" fill="#2e2e2e" stroke="#2e2e2e" stroke-width="0.16" textLength="53.20" lengthAdjust="spacingAndGlyphs">Number at risk</text>
<line x1="258.50" y1="586.05" x2="269.20" y2="586.05" stroke="#c20f2f" stroke-width="1.2"/>
<text x="284.25" y="588.70" font-size="8.8" fill="#2e2e2e" stroke="#2e2e2e" stroke-width="0.16" textLength="8.70" lengthAdjust="spacingAndGlyphs">13</text>
<text x="312.93" y="588.70" font-size="8.8" fill="#2e2e2e" stroke="#2e2e2e" stroke-width="0.16" textLength="4.35" lengthAdjust="spacingAndGlyphs">7</text>
<text x="339.43" y="588.70" font-size="8.8" fill="#2e2e2e" stroke="#2e2e2e" stroke-width="0.16" textLength="4.35" lengthAdjust="spacingAndGlyphs">7</text>
<text x="365.93" y="588.70" font-size="8.8" fill="#2e2e2e" stroke="#2e2e2e" stroke-width="0.16" textLength="4.35" lengthAdjust="spacingAndGlyphs">6</text>
<text x="392.43" y="588.70" font-size="8.8" fill="#2e2e2e" stroke="#2e2e2e" stroke-width="0.16" textLength="4.35" lengthAdjust="spacingAndGlyphs">6</text>
<text x="418.93" y="588.70" font-size="8.8" fill="#2e2e2e" stroke="#2e2e2e" stroke-width="0.16" textLength="4.35" lengthAdjust="spacingAndGlyphs">2</text>
<text x="445.43" y="588.70" font-size="8.8" fill="#2e2e2e" stroke="#2e2e2e" stroke-width="0.16" textLength="4.35" lengthAdjust="spacingAndGlyphs">0</text>
<text x="471.93" y="588.70" font-size="8.8" fill="#2e2e2e" stroke="#2e2e2e" stroke-width="0.16" textLength="4.35" lengthAdjust="spacingAndGlyphs">0</text>
<text x="498.43" y="588.70" font-size="8.8" fill="#2e2e2e" stroke="#2e2e2e" stroke-width="0.16" textLength="4.35" lengthAdjust="spacingAndGlyphs">0</text>
<line x1="258.50" y1="597.80" x2="269.20" y2="597.80" stroke="#1b4f8a" stroke-width="1.2"/>
<text x="284.25" y="600.45" font-size="8.8" fill="#2e2e2e" stroke="#2e2e2e" stroke-width="0.16" textLength="8.70" lengthAdjust="spacingAndGlyphs">16</text>
<text x="310.75" y="600.45" font-size="8.8" fill="#2e2e2e" stroke="#2e2e2e" stroke-width="0.16" textLength="8.70" lengthAdjust="spacingAndGlyphs">15</text>
<text x="337.25" y="600.45" font-size="8.8" fill="#2e2e2e" stroke="#2e2e2e" stroke-width="0.16" textLength="8.70" lengthAdjust="spacingAndGlyphs">13</text>
<text x="363.75" y="600.45" font-size="8.8" fill="#2e2e2e" stroke="#2e2e2e" stroke-width="0.16" textLength="8.70" lengthAdjust="spacingAndGlyphs">11</text>
<text x="392.43" y="600.45" font-size="8.8" fill="#2e2e2e" stroke="#2e2e2e" stroke-width="0.16" textLength="4.35" lengthAdjust="spacingAndGlyphs">9</text>
<text x="418.93" y="600.45" font-size="8.8" fill="#2e2e2e" stroke="#2e2e2e" stroke-width="0.16" textLength="4.35" lengthAdjust="spacingAndGlyphs">6</text>
<text x="445.43" y="600.45" font-size="8.8" fill="#2e2e2e" stroke="#2e2e2e" stroke-width="0.16" textLength="4.35" lengthAdjust="spacingAndGlyphs">2</text>
<text x="471.93" y="600.45" font-size="8.8" fill="#2e2e2e" stroke="#2e2e2e" stroke-width="0.16" textLength="4.35" lengthAdjust="spacingAndGlyphs">0</text>
<text x="498.43" y="600.45" font-size="8.8" fill="#2e2e2e" stroke="#2e2e2e" stroke-width="0.16" textLength="4.35" lengthAdjust="spacingAndGlyphs">0</text>
<text x="306.30" y="421.51" font-size="8.4" fill="#2e2e2e" stroke="#2e2e2e" stroke-width="0.16" textLength="53.20" lengthAdjust="spacingAndGlyphs">Time since prior</text>
<text x="306.30" y="431.11" font-size="8.4" fill="#2e2e2e" stroke="#2e2e2e" stroke-width="0.16" textLength="49.60" lengthAdjust="spacingAndGlyphs">BCMA therapy</text>
<line x1="369.20" y1="423.00" x2="382.20" y2="423.00" stroke="#c20f2f" stroke-width="1.2"/>
<line x1="375.70" y1="420.00" x2="375.70" y2="426.00" stroke="#c20f2f" stroke-width="1.0"/>
<text x="385.30" y="425.91" font-size="8.4" fill="#2e2e2e" stroke="#2e2e2e" stroke-width="0.16" textLength="38.60" lengthAdjust="spacingAndGlyphs">&lt; 6 months</text>
<line x1="430.20" y1="423.00" x2="442.50" y2="423.00" stroke="#1b4f8a" stroke-width="1.2"/>
<line x1="436.35" y1="420.00" x2="436.35" y2="426.00" stroke="#1b4f8a" stroke-width="1.0"/>
<text x="445.60" y="425.91" font-size="8.4" fill="#2e2e2e" stroke="#2e2e2e" stroke-width="0.16" textLength="38.00" lengthAdjust="spacingAndGlyphs">≥ 6 months</text>
<polyline points="288.60,25.40 290.00,25.40 290.00,26.50 291.50,26.50 291.50,27.30 293.00,27.30 293.00,28.20 295.00,28.20 295.00,29.20 296.50,29.20 296.50,29.80 307.00,29.80 307.00,30.40 308.60,30.40 308.60,31.30 314.80,31.30 314.80,32.00 315.50,32.00 315.50,35.00 318.60,35.00 318.60,36.60 321.00,36.60 321.00,37.50 339.00,37.50 339.00,37.50 341.30,37.50 341.30,41.00 347.70,41.00 347.70,42.90 367.00,42.90 367.00,42.90 368.00,42.90 368.00,44.60 374.40,44.60 374.40,45.90 378.00,45.90 378.00,46.90 384.00,46.90 384.00,48.30 388.00,48.30 388.00,49.60 393.70,49.60 393.70,51.30 398.00,51.30 398.00,52.40 403.30,52.40 403.30,53.60 410.00,53.60 410.00,54.60 418.00,54.60 418.00,55.60 425.00,55.60 425.00,56.30 432.00,56.30 432.00,57.20 438.00,57.20 438.00,58.00 443.00,58.00 443.00,58.80 445.00,58.80 445.00,60.00 484.00,60.00" fill="none" stroke="#c20f2f" stroke-width="1.6" stroke-linejoin="miter"/>
<line x1="321.40" y1="34.50" x2="321.40" y2="40.50" stroke="#c20f2f" stroke-width="1.0"/>
<line x1="335.60" y1="34.50" x2="335.60" y2="40.50" stroke="#c20f2f" stroke-width="1.0"/>
<line x1="343.70" y1="38.00" x2="343.70" y2="44.00" stroke="#c20f2f" stroke-width="1.0"/>
<line x1="351.70" y1="39.90" x2="351.70" y2="45.90" stroke="#c20f2f" stroke-width="1.0"/>
<line x1="365.00" y1="39.90" x2="365.00" y2="45.90" stroke="#c20f2f" stroke-width="1.0"/>
<line x1="367.90" y1="39.90" x2="367.90" y2="45.90" stroke="#c20f2f" stroke-width="1.0"/>
<line x1="373.70" y1="41.60" x2="373.70" y2="47.60" stroke="#c20f2f" stroke-width="1.0"/>
<line x1="378.30" y1="43.90" x2="378.30" y2="49.90" stroke="#c20f2f" stroke-width="1.0"/>
<line x1="380.00" y1="43.90" x2="380.00" y2="49.90" stroke="#c20f2f" stroke-width="1.0"/>
<line x1="381.60" y1="43.90" x2="381.60" y2="49.90" stroke="#c20f2f" stroke-width="1.0"/>
<line x1="383.20" y1="43.90" x2="383.20" y2="49.90" stroke="#c20f2f" stroke-width="1.0"/>
<line x1="384.80" y1="45.30" x2="384.80" y2="51.30" stroke="#c20f2f" stroke-width="1.0"/>
<line x1="386.40" y1="45.30" x2="386.40" y2="51.30" stroke="#c20f2f" stroke-width="1.0"/>
<line x1="388.00" y1="46.60" x2="388.00" y2="52.60" stroke="#c20f2f" stroke-width="1.0"/>
<line x1="389.60" y1="46.60" x2="389.60" y2="52.60" stroke="#c20f2f" stroke-width="1.0"/>
<line x1="391.20" y1="46.60" x2="391.20" y2="52.60" stroke="#c20f2f" stroke-width="1.0"/>
<line x1="392.80" y1="46.60" x2="392.80" y2="52.60" stroke="#c20f2f" stroke-width="1.0"/>
<line x1="394.40" y1="48.30" x2="394.40" y2="54.30" stroke="#c20f2f" stroke-width="1.0"/>
<line x1="396.00" y1="48.30" x2="396.00" y2="54.30" stroke="#c20f2f" stroke-width="1.0"/>
<line x1="397.60" y1="48.30" x2="397.60" y2="54.30" stroke="#c20f2f" stroke-width="1.0"/>
<line x1="399.20" y1="49.40" x2="399.20" y2="55.40" stroke="#c20f2f" stroke-width="1.0"/>
<line x1="400.80" y1="49.40" x2="400.80" y2="55.40" stroke="#c20f2f" stroke-width="1.0"/>
<line x1="402.40" y1="49.40" x2="402.40" y2="55.40" stroke="#c20f2f" stroke-width="1.0"/>
<line x1="404.00" y1="50.60" x2="404.00" y2="56.60" stroke="#c20f2f" stroke-width="1.0"/>
<line x1="405.60" y1="50.60" x2="405.60" y2="56.60" stroke="#c20f2f" stroke-width="1.0"/>
<line x1="407.20" y1="50.60" x2="407.20" y2="56.60" stroke="#c20f2f" stroke-width="1.0"/>
<line x1="408.80" y1="50.60" x2="408.80" y2="56.60" stroke="#c20f2f" stroke-width="1.0"/>
<line x1="410.40" y1="51.60" x2="410.40" y2="57.60" stroke="#c20f2f" stroke-width="1.0"/>
<line x1="412.00" y1="51.60" x2="412.00" y2="57.60" stroke="#c20f2f" stroke-width="1.0"/>
<line x1="413.60" y1="51.60" x2="413.60" y2="57.60" stroke="#c20f2f" stroke-width="1.0"/>
<line x1="415.20" y1="51.60" x2="415.20" y2="57.60" stroke="#c20f2f" stroke-width="1.0"/>
<line x1="416.80" y1="51.60" x2="416.80" y2="57.60" stroke="#c20f2f" stroke-width="1.0"/>
<line x1="418.40" y1="52.60" x2="418.40" y2="58.60" stroke="#c20f2f" stroke-width="1.0"/>
<line x1="420.00" y1="52.60" x2="420.00" y2="58.60" stroke="#c20f2f" stroke-width="1.0"/>
<line x1="421.60" y1="52.60" x2="421.60" y2="58.60" stroke="#c20f2f" stroke-width="1.0"/>
<line x1="423.20" y1="52.60" x2="423.20" y2="58.60" stroke="#c20f2f" stroke-width="1.0"/>
<line x1="424.80" y1="52.60" x2="424.80" y2="58.60" stroke="#c20f2f" stroke-width="1.0"/>
<line x1="426.40" y1="53.30" x2="426.40" y2="59.30" stroke="#c20f2f" stroke-width="1.0"/>
<line x1="428.00" y1="53.30" x2="428.00" y2="59.30" stroke="#c20f2f" stroke-width="1.0"/>
<line x1="429.60" y1="53.30" x2="429.60" y2="59.30" stroke="#c20f2f" stroke-width="1.0"/>
<line x1="431.20" y1="53.30" x2="431.20" y2="59.30" stroke="#c20f2f" stroke-width="1.0"/>
<line x1="432.80" y1="54.20" x2="432.80" y2="60.20" stroke="#c20f2f" stroke-width="1.0"/>
<line x1="434.40" y1="54.20" x2="434.40" y2="60.20" stroke="#c20f2f" stroke-width="1.0"/>
<line x1="436.00" y1="54.20" x2="436.00" y2="60.20" stroke="#c20f2f" stroke-width="1.0"/>
<line x1="437.60" y1="54.20" x2="437.60" y2="60.20" stroke="#c20f2f" stroke-width="1.0"/>
<line x1="439.20" y1="55.00" x2="439.20" y2="61.00" stroke="#c20f2f" stroke-width="1.0"/>
<line x1="440.80" y1="55.00" x2="440.80" y2="61.00" stroke="#c20f2f" stroke-width="1.0"/>
<line x1="442.40" y1="55.00" x2="442.40" y2="61.00" stroke="#c20f2f" stroke-width="1.0"/>
<line x1="445.50" y1="57.00" x2="445.50" y2="63.00" stroke="#c20f2f" stroke-width="1.0"/>
<line x1="448.00" y1="57.00" x2="448.00" y2="63.00" stroke="#c20f2f" stroke-width="1.0"/>
<line x1="449.50" y1="57.00" x2="449.50" y2="63.00" stroke="#c20f2f" stroke-width="1.0"/>
<line x1="450.50" y1="57.00" x2="450.50" y2="63.00" stroke="#c20f2f" stroke-width="1.0"/>
<line x1="452.50" y1="57.00" x2="452.50" y2="63.00" stroke="#c20f2f" stroke-width="1.0"/>
<line x1="455.00" y1="57.00" x2="455.00" y2="63.00" stroke="#c20f2f" stroke-width="1.0"/>
<line x1="457.50" y1="57.00" x2="457.50" y2="63.00" stroke="#c20f2f" stroke-width="1.0"/>
<line x1="460.00" y1="57.00" x2="460.00" y2="63.00" stroke="#c20f2f" stroke-width="1.0"/>
<line x1="462.50" y1="57.00" x2="462.50" y2="63.00" stroke="#c20f2f" stroke-width="1.0"/>
<line x1="465.00" y1="57.00" x2="465.00" y2="63.00" stroke="#c20f2f" stroke-width="1.0"/>
<line x1="467.50" y1="57.00" x2="467.50" y2="63.00" stroke="#c20f2f" stroke-width="1.0"/>
<line x1="469.00" y1="57.00" x2="469.00" y2="63.00" stroke="#c20f2f" stroke-width="1.0"/>
<line x1="470.00" y1="57.00" x2="470.00" y2="63.00" stroke="#c20f2f" stroke-width="1.0"/>
<line x1="472.50" y1="57.00" x2="472.50" y2="63.00" stroke="#c20f2f" stroke-width="1.0"/>
<line x1="474.50" y1="57.00" x2="474.50" y2="63.00" stroke="#c20f2f" stroke-width="1.0"/>
<line x1="477.00" y1="57.00" x2="477.00" y2="63.00" stroke="#c20f2f" stroke-width="1.0"/>
<line x1="478.00" y1="57.00" x2="478.00" y2="63.00" stroke="#c20f2f" stroke-width="1.0"/>
<line x1="479.00" y1="57.00" x2="479.00" y2="63.00" stroke="#c20f2f" stroke-width="1.0"/>
<line x1="481.50" y1="57.00" x2="481.50" y2="63.00" stroke="#c20f2f" stroke-width="1.0"/>
<polyline points="288.60,25.40 296.50,25.40 296.50,36.00 299.60,36.00 299.60,40.00 300.90,40.00 300.90,41.80 306.30,41.80 306.30,44.60 314.50,44.60 314.50,50.00 326.90,50.00 326.90,52.70 335.60,52.70 335.60,55.60 343.00,55.60 343.00,58.50 352.30,58.50 352.30,61.00 360.40,61.00 360.40,63.70 363.80,63.70 363.80,66.40 393.50,66.40 393.50,69.00 408.70,69.00 408.70,74.30 437.90,74.30 437.90,88.30 458.60,88.30 458.60,115.50" fill="none" stroke="#1b4f8a" stroke-width="1.6" stroke-linejoin="miter"/>
<line x1="382.50" y1="63.40" x2="382.50" y2="69.40" stroke="#1b4f8a" stroke-width="1.0"/>
<line x1="386.50" y1="63.40" x2="386.50" y2="69.40" stroke="#1b4f8a" stroke-width="1.0"/>
<line x1="396.30" y1="66.00" x2="396.30" y2="72.00" stroke="#1b4f8a" stroke-width="1.0"/>
<line x1="399.80" y1="66.00" x2="399.80" y2="72.00" stroke="#1b4f8a" stroke-width="1.0"/>
<line x1="401.00" y1="66.00" x2="401.00" y2="72.00" stroke="#1b4f8a" stroke-width="1.0"/>
<line x1="405.60" y1="66.00" x2="405.60" y2="72.00" stroke="#1b4f8a" stroke-width="1.0"/>
<line x1="417.70" y1="71.30" x2="417.70" y2="77.30" stroke="#1b4f8a" stroke-width="1.0"/>
<line x1="423.50" y1="71.30" x2="423.50" y2="77.30" stroke="#1b4f8a" stroke-width="1.0"/>
<line x1="430.40" y1="71.30" x2="430.40" y2="77.30" stroke="#1b4f8a" stroke-width="1.0"/>
<line x1="457.60" y1="85.30" x2="457.60" y2="91.30" stroke="#1b4f8a" stroke-width="1.0"/>
<polyline points="288.60,228.00 296.30,228.00 296.30,247.30 305.40,247.30 305.40,252.00 326.90,252.00 326.90,256.70 335.60,256.70 335.60,261.20 343.30,261.20 343.30,266.20 361.20,266.20 361.20,271.20 437.30,271.20 437.30,287.00 458.80,287.00 458.80,318.40" fill="none" stroke="#c20f2f" stroke-width="1.6" stroke-linejoin="miter"/>
<line x1="386.70" y1="268.20" x2="386.70" y2="274.20" stroke="#c20f2f" stroke-width="1.0"/>
<line x1="396.90" y1="268.20" x2="396.90" y2="274.20" stroke="#c20f2f" stroke-width="1.0"/>
<line x1="400.80" y1="268.20" x2="400.80" y2="274.20" stroke="#c20f2f" stroke-width="1.0"/>
<line x1="418.10" y1="268.20" x2="418.10" y2="274.20" stroke="#c20f2f" stroke-width="1.0"/>
<line x1="423.80" y1="268.20" x2="423.80" y2="274.20" stroke="#c20f2f" stroke-width="1.0"/>
<line x1="431.50" y1="268.20" x2="431.50" y2="274.20" stroke="#c20f2f" stroke-width="1.0"/>
<line x1="457.90" y1="284.00" x2="457.90" y2="290.00" stroke="#c20f2f" stroke-width="1.0"/>
<polyline points="288.60,228.00 300.50,228.00 300.50,239.30 315.00,239.30 315.00,250.90 352.30,250.90 352.30,262.20 432.90,262.20" fill="none" stroke="#1b4f8a" stroke-width="1.6" stroke-linejoin="miter"/>
<line x1="382.30" y1="259.20" x2="382.30" y2="265.20" stroke="#1b4f8a" stroke-width="1.0"/>
<line x1="396.30" y1="259.20" x2="396.30" y2="265.20" stroke="#1b4f8a" stroke-width="1.0"/>
<line x1="405.40" y1="259.20" x2="405.40" y2="265.20" stroke="#1b4f8a" stroke-width="1.0"/>
<line x1="423.80" y1="259.20" x2="423.80" y2="265.20" stroke="#1b4f8a" stroke-width="1.0"/>
<line x1="430.40" y1="259.20" x2="430.40" y2="265.20" stroke="#1b4f8a" stroke-width="1.0"/>
<polyline points="288.60,228.00 299.20,228.00 299.20,242.70 314.40,242.70 314.40,258.10 364.40,258.10 364.40,273.10 393.50,273.10 393.50,288.30 408.80,288.30 408.80,318.40" fill="none" stroke="#52b047" stroke-width="1.6" stroke-linejoin="miter"/>
<line x1="399.20" y1="285.30" x2="399.20" y2="291.30" stroke="#52b047" stroke-width="1.0"/>
<polyline points="288.60,442.90 296.60,442.90 296.60,470.70 301.50,470.70 301.50,477.50 305.20,477.50 305.20,484.60 343.50,484.60 343.50,491.60 433.50,491.60" fill="none" stroke="#c20f2f" stroke-width="1.6" stroke-linejoin="miter"/>
<line x1="396.50" y1="488.60" x2="396.50" y2="494.60" stroke="#c20f2f" stroke-width="1.0"/>
<line x1="400.80" y1="488.60" x2="400.80" y2="494.60" stroke="#c20f2f" stroke-width="1.0"/>
<line x1="418.00" y1="488.60" x2="418.00" y2="494.60" stroke="#c20f2f" stroke-width="1.0"/>
<line x1="423.10" y1="488.60" x2="423.10" y2="494.60" stroke="#c20f2f" stroke-width="1.0"/>
<line x1="430.00" y1="488.60" x2="430.00" y2="494.60" stroke="#c20f2f" stroke-width="1.0"/>
<polyline points="288.60,442.90 298.80,442.90 298.80,448.50 326.70,448.50 326.70,454.10 335.80,454.10 335.80,459.80 352.30,459.80 352.30,465.40 361.00,465.40 361.00,471.00 393.70,471.00 393.70,476.70 408.80,476.70 408.80,485.40 437.40,485.40 437.40,501.50 458.80,501.50 458.80,533.20" fill="none" stroke="#1b4f8a" stroke-width="1.6" stroke-linejoin="miter"/>
<line x1="382.50" y1="468.00" x2="382.50" y2="474.00" stroke="#1b4f8a" stroke-width="1.0"/>
<line x1="399.40" y1="473.70" x2="399.40" y2="479.70" stroke="#1b4f8a" stroke-width="1.0"/>
<line x1="405.20" y1="473.70" x2="405.20" y2="479.70" stroke="#1b4f8a" stroke-width="1.0"/>
<line x1="423.10" y1="482.40" x2="423.10" y2="488.40" stroke="#1b4f8a" stroke-width="1.0"/>
<line x1="431.60" y1="482.40" x2="431.60" y2="488.40" stroke="#1b4f8a" stroke-width="1.0"/>
<line x1="458.20" y1="498.50" x2="458.20" y2="504.50" stroke="#1b4f8a" stroke-width="1.0"/>
</svg>
<div style="position:absolute;left:0;top:0;width:518px;height:607px;border:1px solid #5a5a5a;"></div>
</body></html>
